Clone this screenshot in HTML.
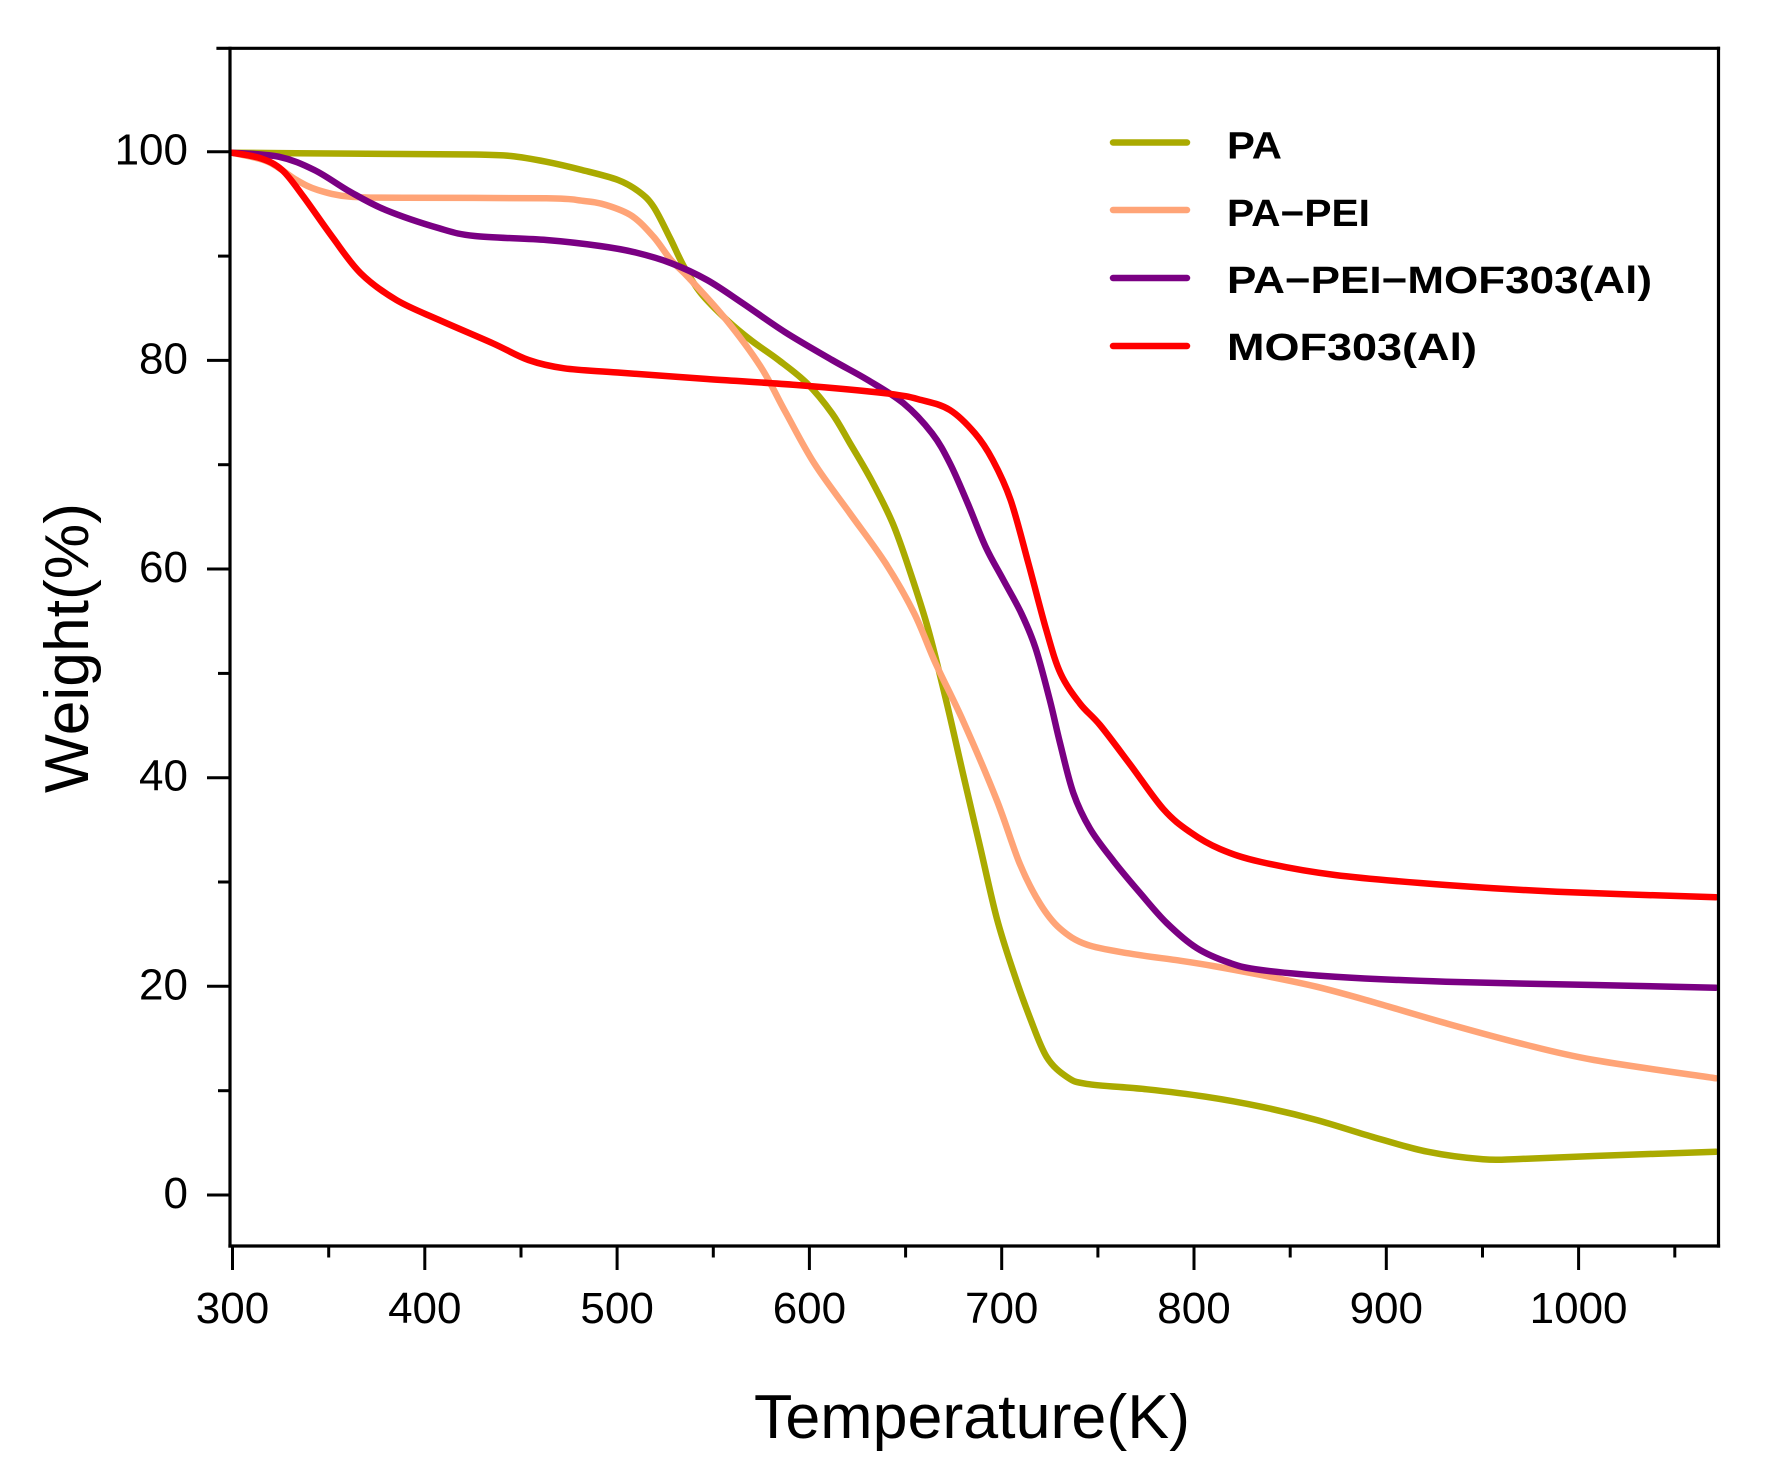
<!DOCTYPE html>
<html>
<head>
<meta charset="utf-8">
<style>
html,body{margin:0;padding:0;background:#ffffff;}
svg{display:block;}
</style>
</head>
<body>
<svg xmlns="http://www.w3.org/2000/svg" width="1770" height="1479" viewBox="0 0 1770 1479" font-family="'Liberation Sans', Arial, sans-serif">
<rect x="0" y="0" width="1770" height="1479" fill="#ffffff"/>

<!-- series -->
<g fill="none" stroke-width="6.5" stroke-linejoin="round" stroke-linecap="round">
<polyline class="s" stroke="#aaaa00" points="232,152.7 296,153.3 403,154 475,154.5 511,156 546,161.7 582,170 618,180 639,191.7 653.5,206.7 670,238 684,266.7 701,293.3 728,321 752,341 778.5,360 807,383.3 832,413.3 850,443.3 871.3,480 892.7,523.3 910.6,573.3 928.4,630 946.5,702 963.3,775 980,846.4 996.7,917.9 1013.3,971.4 1030,1017.9 1046.7,1057 1066.7,1076.8 1086.7,1083.9 1146.7,1089.3 1205.5,1096.7 1261,1106.7 1316.5,1120 1372,1136.7 1427.5,1151.7 1483,1159.3 1520,1159 1594,1156 1716,1151.7"/>
<polyline class="s" stroke="#ffa477" points="232,152.7 268,161.7 296.4,180 317.8,190 350,196.7 403.5,197.7 546.3,198.3 582,200.7 606,205 632,216 653.5,236.7 671,260 689.2,278.3 725,318.3 760.6,366.6 785.2,411.6 814.2,463.3 849.9,513.3 885.6,563.3 914.2,613.3 935.6,663.3 963.3,721.4 996.7,800 1020,864.3 1040,903.6 1060,928.6 1086.7,944.6 1130,953.6 1180,960.7 1213,966 1261,975 1316.5,986.7 1372,1001.7 1446,1023.3 1520,1043.3 1594,1060 1716,1078.3"/>
<polyline class="s" stroke="#7a0083" points="232,152.7 278.6,156.7 314.3,170 350,191.7 385.7,210 439.2,228.3 474.9,236 546.3,240 600,246 635.7,252.5 671.4,263.3 707.1,280 742.8,303.3 784.8,332 832.1,360 867.8,380 903.5,403.3 932,433.3 949.9,463.3 967.7,503.3 985.6,546.7 1003.4,580 1021.3,613.3 1035.5,648 1049.8,700 1060,742.9 1073.3,792.9 1090,828.6 1113.3,860.7 1140,892.9 1166.7,923 1196.7,948 1230,963 1261,970 1335,976.7 1446,981.7 1594,985 1716,987.7"/>
<polyline class="s" stroke="#ff0000" points="232,152.7 260.7,158.3 282.1,170 303.5,196.7 332.1,236.7 360.7,273.3 396.4,300 439.2,320 492.8,343.3 528.5,360 564.2,368.3 617.7,372.5 707.1,379 796.4,385 885.6,393.3 921.3,400 949.9,410 974.9,433.3 992.7,460 1010.6,500 1028.4,563.3 1046.3,630 1060.5,673.3 1080,703.6 1100,725 1130,764.3 1163.3,809 1190,832 1220,849 1261,862 1335,875 1446,885 1557,891.7 1716,897.3"/>
</g>

<!-- axes frame -->
<g stroke="#000" stroke-width="3.2" fill="none" stroke-linecap="square">
<line x1="230" y1="48.3" x2="230" y2="1246"/>
<line x1="230" y1="1246" x2="1718.5" y2="1246"/>
<line x1="218" y1="48.3" x2="1718.5" y2="48.3"/>
<line x1="1718.5" y1="48.3" x2="1718.5" y2="1246"/>
</g>

<!-- y ticks -->
<g stroke="#000" stroke-width="3">
<line x1="207" y1="1195" x2="230" y2="1195"/>
<line x1="207" y1="986.3" x2="230" y2="986.3"/>
<line x1="207" y1="777.7" x2="230" y2="777.7"/>
<line x1="207" y1="569" x2="230" y2="569"/>
<line x1="207" y1="360.4" x2="230" y2="360.4"/>
<line x1="207" y1="151.7" x2="230" y2="151.7"/>
<line x1="218" y1="1090.7" x2="230" y2="1090.7"/>
<line x1="218" y1="882" x2="230" y2="882"/>
<line x1="218" y1="673.4" x2="230" y2="673.4"/>
<line x1="218" y1="464.7" x2="230" y2="464.7"/>
<line x1="218" y1="256.1" x2="230" y2="256.1"/>
</g>

<!-- x ticks -->
<g stroke="#000" stroke-width="3">
<line x1="232.5" y1="1246" x2="232.5" y2="1270"/>
<line x1="424.8" y1="1246" x2="424.8" y2="1270"/>
<line x1="617.1" y1="1246" x2="617.1" y2="1270"/>
<line x1="809.4" y1="1246" x2="809.4" y2="1270"/>
<line x1="1001.7" y1="1246" x2="1001.7" y2="1270"/>
<line x1="1194" y1="1246" x2="1194" y2="1270"/>
<line x1="1386.3" y1="1246" x2="1386.3" y2="1270"/>
<line x1="1578.6" y1="1246" x2="1578.6" y2="1270"/>
<line x1="328.7" y1="1246" x2="328.7" y2="1257.5"/>
<line x1="521" y1="1246" x2="521" y2="1257.5"/>
<line x1="713.3" y1="1246" x2="713.3" y2="1257.5"/>
<line x1="905.6" y1="1246" x2="905.6" y2="1257.5"/>
<line x1="1097.9" y1="1246" x2="1097.9" y2="1257.5"/>
<line x1="1290.2" y1="1246" x2="1290.2" y2="1257.5"/>
<line x1="1482.5" y1="1246" x2="1482.5" y2="1257.5"/>
<line x1="1674.8" y1="1246" x2="1674.8" y2="1257.5"/>
</g>

<!-- y tick labels -->
<g font-size="44" fill="#000" text-anchor="end">
<text x="188" y="1208">0</text>
<text x="188" y="999.3">20</text>
<text x="188" y="790.7">40</text>
<text x="188" y="582">60</text>
<text x="188" y="373.4">80</text>
<text x="188" y="164.7">100</text>
</g>

<!-- x tick labels -->
<g font-size="44" fill="#000" text-anchor="middle">
<text x="232.5" y="1323">300</text>
<text x="424.8" y="1323">400</text>
<text x="617.1" y="1323">500</text>
<text x="809.4" y="1323">600</text>
<text x="1001.7" y="1323">700</text>
<text x="1194" y="1323">800</text>
<text x="1386.3" y="1323">900</text>
<text x="1578.6" y="1323">1000</text>
</g>

<!-- axis titles -->
<text x="972" y="1438" text-anchor="middle" font-size="62" fill="#000" textLength="436" lengthAdjust="spacingAndGlyphs">Temperature(K)</text>
<text transform="translate(88,648) rotate(-90)" text-anchor="middle" font-size="62" fill="#000" textLength="290" lengthAdjust="spacingAndGlyphs">Weight(%)</text>

<!-- legend -->
<g stroke-width="6.5" stroke-linecap="round">
<line x1="1113" y1="142.5" x2="1187" y2="142.5" stroke="#aaaa00"/>
<line x1="1113" y1="210" x2="1187" y2="210" stroke="#ffa477"/>
<line x1="1113" y1="278" x2="1187" y2="278" stroke="#7a0083"/>
<line x1="1113" y1="346" x2="1187" y2="346" stroke="#ff0000"/>
</g>
<g font-size="38" font-weight="bold" fill="#000">
<text x="1227" y="158.5" textLength="55" lengthAdjust="spacingAndGlyphs">PA</text>
<text x="1227" y="226" textLength="143" lengthAdjust="spacingAndGlyphs">PA−PEI</text>
<text x="1227" y="293" textLength="425" lengthAdjust="spacingAndGlyphs">PA−PEI−MOF303(Al)</text>
<text x="1227" y="360" textLength="250" lengthAdjust="spacingAndGlyphs">MOF303(Al)</text>
</g>
</svg>
<script>
(function(){
  var NS='http://www.w3.org/2000/svg';
  var pls=document.querySelectorAll('polyline.s');
  for(var k=0;k<pls.length;k++){
    var pl=pls[k];
    var pts=pl.getAttribute('points').trim().split(/\s+/).map(function(p){return p.split(',').map(Number);});
    var d='M'+pts[0][0]+','+pts[0][1];
    for(var i=0;i<pts.length-1;i++){
      var p0=pts[i-1]||pts[i],p1=pts[i],p2=pts[i+1],p3=pts[i+2]||pts[i+1];
      var c1x=p1[0]+(p2[0]-p0[0])/6,c1y=p1[1]+(p2[1]-p0[1])/6;
      var c2x=p2[0]-(p3[0]-p1[0])/6,c2y=p2[1]-(p3[1]-p1[1])/6;
      d+=' C'+c1x.toFixed(2)+','+c1y.toFixed(2)+' '+c2x.toFixed(2)+','+c2y.toFixed(2)+' '+p2[0]+','+p2[1];
    }
    var path=document.createElementNS(NS,'path');
    path.setAttribute('d',d);
    path.setAttribute('stroke',pl.getAttribute('stroke'));
    path.setAttribute('fill','none');
    pl.parentNode.replaceChild(path,pl);
  }
})();
</script>
</body>
</html>
